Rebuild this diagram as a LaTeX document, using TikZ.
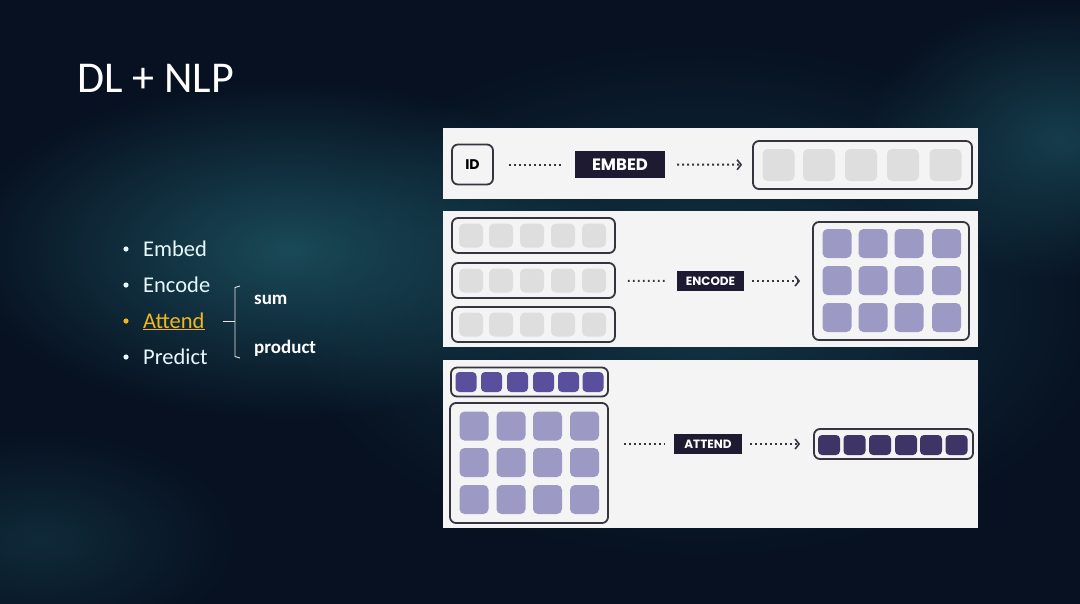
\documentclass[tikz,border=0pt]{standalone}
\usepackage{fontspec}
\setmainfont{Carlito}
\newfontfamily\popfont{Poppins}
\usetikzlibrary{arrows.meta,positioning,fadings}

\definecolor{bgdark}{RGB}{7,17,33}
\definecolor{bgglow}{RGB}{28,80,94}
\definecolor{panel}{RGB}{244,244,244}
\definecolor{boxline}{RGB}{55,52,64}
\definecolor{labelbg}{RGB}{30,26,50}
\definecolor{lightcell}{RGB}{222,222,222}
\definecolor{midcell}{RGB}{156,153,197}
\definecolor{topcell}{RGB}{90,79,156}
\definecolor{outcell}{RGB}{62,53,102}
\definecolor{attendyel}{RGB}{240,184,30}

\tikzfading[name=glowfade, inner color=transparent!0, outer color=transparent!100]

\tikzset{
  panelbox/.style={fill=panel, draw=none, inner sep=0pt},
  vecbox/.style={draw=boxline, line width=1.8pt, rounded corners=6pt, fill=panel, inner sep=0pt},
  cell/.style={rounded corners=5pt, inner sep=0pt, draw=none},
  tagbox/.style={fill=labelbg, text=white, inner sep=0pt},
  dotline/.style={draw=boxline, line width=2pt, dash pattern=on 1.8pt off 3.2pt},
  dotarrow/.style={dotline, -{Straight Barb[length=4pt,width=10pt,line width=1.6pt]}},
  item/.style={text=white!90!cyan, font=\fontsize{22.5}{26}\selectfont, anchor=base west, inner sep=0pt},
  glow/.style={fill=bgglow, path fading=glowfade},
}

\begin{document}
\begin{tikzpicture}[x=1pt,y=-1pt]

% ===== Background =====
\useasboundingbox (0,0) rectangle (1080,603);
\fill[bgdark] (-4,-4) rectangle (1084,607);
\fill[glow, opacity=0.9] (290,250) ellipse (330 and 170);
\fill[glow, opacity=0.6] (700,300) ellipse (420 and 260);
\fill[glow, opacity=0.7] (1060,140) ellipse (200 and 140);
\fill[glow, opacity=0.4] (40,540) ellipse (200 and 110);

% ===== Title =====
\node[text=white, font=\fontsize{44}{50}\selectfont, anchor=base west, inner sep=0pt] (title) at (77,92) {DL + NLP};

% ===== Bullet list =====
\node[item] (embedit) at (143,256) {Embed};
\node[item] (encodeit) at (143,292) {Encode};
\node[item, text=attendyel] (attendit) at (143,328) {\underline{Attend}};
\node[item] (predictit) at (143,364) {Predict};
\foreach \y in {249,285,357} {
    \fill[white!90!cyan] (126,\y) circle (2.6pt);
}
\fill[attendyel] (126,321) circle (2.6pt);

% ===== Brace =====
\draw[white!80!gray, line width=0.9pt] (240,286) -- (235,287.5) -- (235,356.5) -- (240,358);
\draw[white!80!gray, line width=0.9pt] (223,321) -- (235,321);
\node[text=white, font=\bfseries\fontsize{19}{22}\selectfont, anchor=base west, inner sep=0pt] (sum) at (254,304) {sum};
\node[text=white, font=\bfseries\fontsize{19}{22}\selectfont, anchor=base west, inner sep=0pt] (product) at (254,353) {product};

% ===== Panel 1: embed =====
\node[panelbox, minimum width=535pt, minimum height=71pt] (p1) at (710.5,163.5) {};
\node[vecbox, minimum width=41pt, minimum height=40pt, font=\popfont\bfseries\fontsize{14}{16}\selectfont] (id) at (472.5,164.5) {ID};
\node[tagbox, minimum width=90pt, minimum height=27pt, font=\popfont\bfseries\fontsize{16.5}{18}\selectfont] (embed) at (620,164.5) {EMBED};
\node[vecbox, minimum width=219pt, minimum height=48pt] (emb) at (862.5,165) {};
\foreach \x [count=\i] in {778.5,819,861,903,945.5} {
    \node[cell, fill=lightcell, minimum size=32pt] (emb\i) at (\x,165) {};
}
\draw[dotline, shorten <=15pt, shorten >=13pt] (id) -- (embed);
\draw[dotarrow, shorten <=12pt, shorten >=10pt] (embed) -- (emb);

% ===== Panel 2: encode =====
\node[panelbox, minimum width=535pt, minimum height=136pt] (p2) at (710.5,279) {};
\foreach \r/\y in {1/235.5,2/280.5,3/324.5} {
    \node[vecbox, minimum width=163pt, minimum height=35pt] (row\r) at (533.5,\y) {};
    \foreach \x [count=\c] in {471,501,532,563,594} {
        \node[cell, fill=lightcell, minimum size=24pt] (row\r c\c) at (\x,\y) {};
    }
}
\node[tagbox, minimum width=67pt, minimum height=20pt, font=\popfont\bfseries\fontsize{12}{14}\selectfont] (encode) at (710.5,281) {ENCODE};
\node[vecbox, minimum width=156pt, minimum height=118pt] (enc) at (891,281) {};
\foreach \y [count=\r] in {243.5,280.5,317.5} {
    \foreach \x [count=\c] in {837,873,909,946.5} {
        \node[cell, fill=midcell, minimum size=29pt] (enc\r\c) at (\x,\y) {};
    }
}
\draw[dotline, shorten <=12pt, shorten >=10pt] (row2) -- (encode);
\draw[dotarrow, shorten <=8pt, shorten >=12pt] (encode) -- (enc);

% ===== Panel 3: attend =====
\node[panelbox, minimum width=535pt, minimum height=168pt] (p3) at (710.5,444) {};
\node[vecbox, minimum width=157pt, minimum height=29pt] (query) at (529.5,382) {};
\foreach \x [count=\i] in {466,491.5,517.5,543.5,568.5,593} {
    \node[cell, fill=topcell, minimum width=21pt, minimum height=20pt, rounded corners=4pt] (query\i) at (\x,382) {};
}
\node[vecbox, minimum width=158pt, minimum height=120pt] (keys) at (529,463) {};
\foreach \y [count=\r] in {426,462.5,499.5} {
    \foreach \x [count=\c] in {474,511,547.5,584.5} {
        \node[cell, fill=midcell, minimum size=29pt] (keys\r\c) at (\x,\y) {};
    }
}
\node[tagbox, minimum width=68pt, minimum height=20pt, font=\popfont\bfseries\fontsize{12}{14}\selectfont] (attend) at (708,444) {ATTEND};
\node[vecbox, minimum width=159pt, minimum height=30pt] (out) at (893.5,444) {};
\foreach \x [count=\i] in {829,854.5,880,906,931,956.5} {
    \node[cell, fill=outcell, minimum width=22pt, minimum height=20pt, rounded corners=4pt] (out\i) at (\x,445) {};
}
\draw[dotline, shorten <=15pt, shorten >=9pt] (keys.east |- attend.west) -- (attend.west);
\draw[dotarrow, shorten <=8pt, shorten >=13pt] (attend) -- (out);

\end{tikzpicture}
\end{document}
